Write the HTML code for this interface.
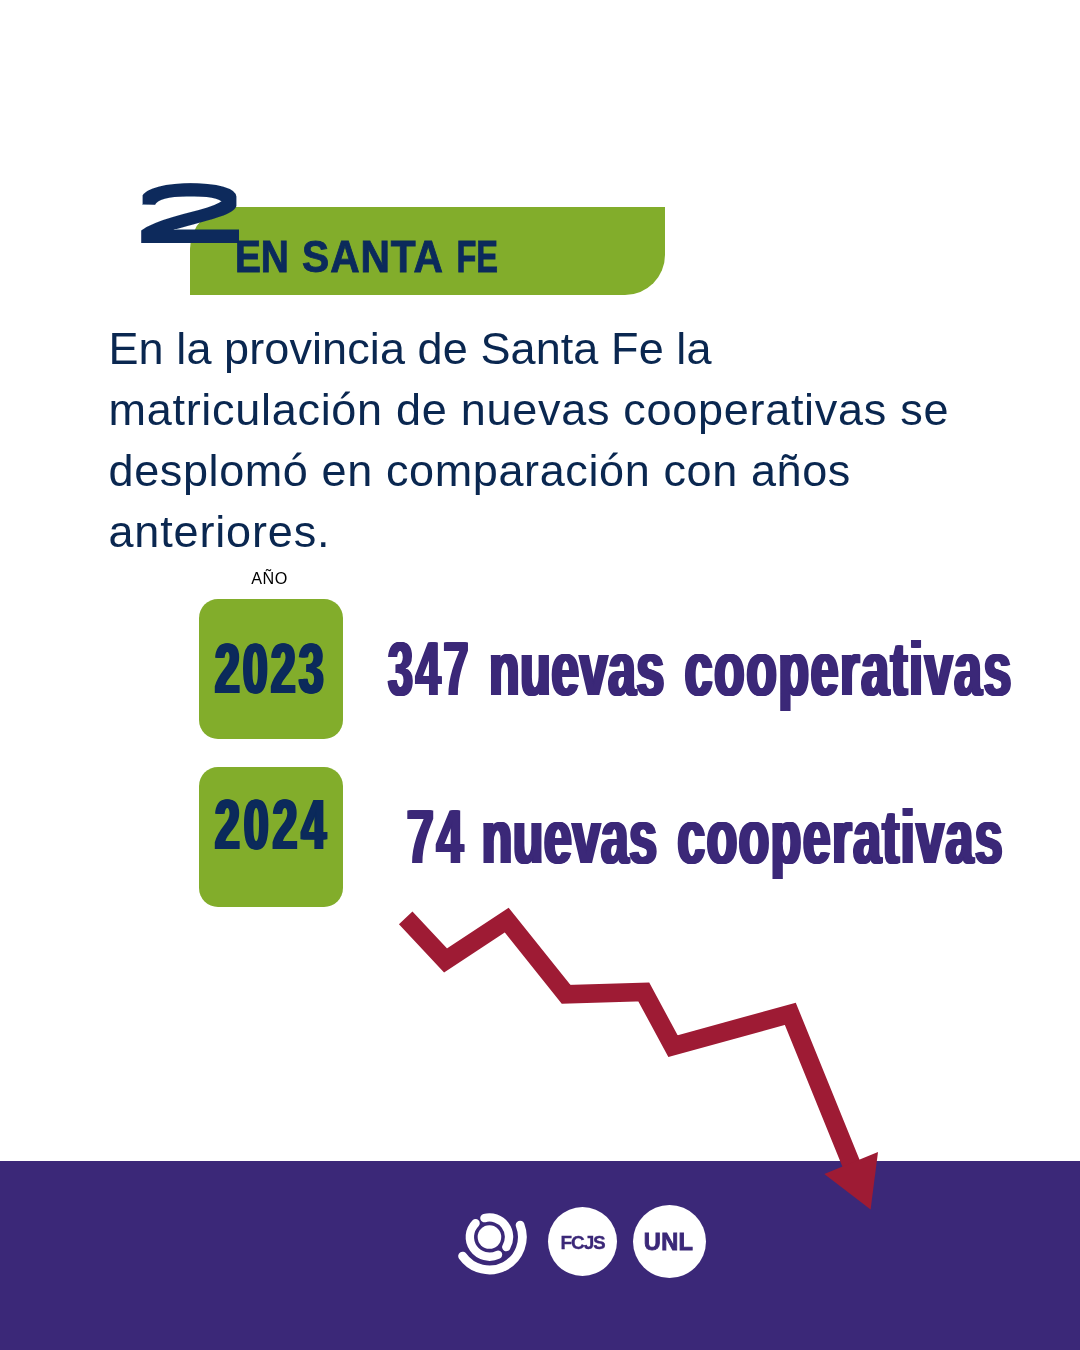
<!DOCTYPE html>
<html lang="es">
<head>
<meta charset="utf-8">
<title>En Santa Fe</title>
<style>
html,body{margin:0;padding:0;}
body{width:1080px;height:1350px;position:relative;overflow:hidden;background:#fff;font-family:"Liberation Sans",sans-serif;}
.abs{position:absolute;}
#banner{left:190px;top:207px;width:475px;height:88px;background:#82ad2b;border-radius:42px 0 40px 0;}
#title{left:234.5px;top:235px;font-weight:700;font-size:44.2px;line-height:1;color:#0b2a5b;white-space:nowrap;letter-spacing:-0.3px;-webkit-text-stroke:0.9px #0b2a5b;transform-origin:0 0;transform:scaleX(0.922);}
.body{left:108.5px;font-size:45px;line-height:1;color:#0a2750;white-space:nowrap;}
#ano{left:229.5px;top:569.5px;width:80px;text-align:center;font-size:16.2px;line-height:1;color:#000;letter-spacing:0.5px;}
.box{left:199px;width:144px;height:140px;background:#82ad2b;border-radius:19px;}
.yr{font-weight:700;font-size:70.5px;line-height:1;color:#0b2a5b;white-space:nowrap;transform-origin:0 0;transform:scaleX(0.63);text-shadow:1.3px 0 #0b2a5b,-1.3px 0 #0b2a5b,2.6px 0 #0b2a5b,-2.6px 0 #0b2a5b;letter-spacing:6.5px;}
.big{font-weight:700;font-size:76px;line-height:1;color:#3b2878;white-space:nowrap;transform-origin:0 0;text-shadow:1.3px 0 #3b2878,-1.3px 0 #3b2878,2.6px 0 #3b2878,-2.6px 0 #3b2878;}
#footer{left:0;top:1161px;width:1080px;height:189px;background:#3b2878;}
.circ{background:#fff;border-radius:50%;}
.ctext{color:#3b2878;font-weight:700;line-height:1;white-space:nowrap;}
</style>
</head>
<body>
<div class="abs" id="banner"></div>
<svg class="abs" id="twosvg" style="left:0;top:0;overflow:visible" width="400" height="320" viewBox="0 0 400 320">
  <defs><filter id="ext" x="-20%" y="-20%" width="140%" height="140%"><feMorphology operator="dilate" radius="0 4" result="a"/><feMorphology in="a" operator="erode" radius="4 0"/></filter></defs>
  <g filter="url(#ext)"><g transform="translate(125.5,239.3) scale(3.16,1)"><text x="0" y="0" font-family="Liberation Sans, sans-serif" font-size="73.5" fill="#0b2a5b">2</text></g></g>
</svg>
<div class="abs" id="title"><span style="display:inline-block;transform:scaleX(0.955);transform-origin:0 0">EN</span> <span style="letter-spacing:0.95px">SANTA</span> <span style="display:inline-block;transform:scaleX(0.8);transform-origin:100% 0;margin-left:-9px">FE</span></div>

<div class="abs body" id="l1" style="top:326px;letter-spacing:0.09px">En la provincia de Santa Fe la</div>
<div class="abs body" id="l2" style="top:387px;letter-spacing:0.71px">matriculación de nuevas cooperativas se</div>
<div class="abs body" id="l3" style="top:448px;letter-spacing:0.61px">desplomó en comparación con años</div>
<div class="abs body" id="l4" style="top:509px;letter-spacing:0.84px">anteriores.</div>

<div class="abs" id="ano">AÑO</div>
<div class="abs box" style="top:599px"></div>
<div class="abs box" style="top:767px"></div>
<div class="abs yr" id="y1" style="left:215px;top:634px;letter-spacing:5.2px">2023</div>
<div class="abs yr" id="y2" style="left:215px;top:789.5px;letter-spacing:6.5px">2024</div>

<div class="abs big" id="b1" style="left:387.5px;top:631px;transform:scaleX(0.655);word-spacing:9px"><span style="display:inline-block;transform:scaleX(0.9);transform-origin:0 0;letter-spacing:4.8px;margin-right:-21.5px">347</span> <span style="letter-spacing:1.1px;margin-left:4.5px">nuevas</span> <span style="letter-spacing:2.7px;margin-left:0px">cooperativas</span></div>
<div class="abs big" id="b2" style="left:407px;top:799px;transform:scaleX(0.655);word-spacing:9px"><span style="display:inline-block;transform:scaleX(0.96);transform-origin:0 0;letter-spacing:5px;margin-right:-10.5px">74</span> <span style="letter-spacing:1.1px;margin-left:0px">nuevas</span> <span style="letter-spacing:2.5px;margin-left:0px">cooperativas</span></div>

<div class="abs" id="footer"></div>

<svg class="abs" style="left:0;top:0" width="1080" height="1350" viewBox="0 0 1080 1350">
  <polyline points="405.7,917.9 445.5,960.4 506.7,920 566.1,994.3 643.8,992 673,1046.1 790.3,1013.8 852.1,1165.9" fill="none" stroke="#9e1b34" stroke-width="18.5" stroke-linejoin="miter" stroke-miterlimit="10"/>
  <polygon points="824.3,1174.1 878,1151.9 870.6,1209.6" fill="#9e1b34"/>
</svg>

<svg class="abs" id="logo" style="left:0;top:0" width="1080" height="1350" viewBox="0 0 1080 1350">
  <circle cx="489.44" cy="1237.04" r="11.8" fill="#fff"/>
  <path d="M475.58,1223.18 A19.6,19.6 0 0 0 498.03,1254.66" fill="none" stroke="#fff" stroke-width="8.4" stroke-linecap="round"/>
  <path d="M484.47,1218.08 A19.6,19.6 0 0 1 506.29,1247.05" fill="none" stroke="#fff" stroke-width="8.4" stroke-linecap="round"/>
  <path d="M462.62,1256.10 A32.9,32.9 0 0 0 520.11,1225.14" fill="none" stroke="#fff" stroke-width="8.8" stroke-linecap="round"/>
</svg>
<div class="abs circ" style="left:548px;top:1207px;width:69.4px;height:69.4px"></div>
<div class="abs circ" style="left:633.3px;top:1205.4px;width:73px;height:73px"></div>
<div class="abs ctext" id="fcjs" style="left:560.5px;top:1233px;font-size:19px;letter-spacing:-1.1px;-webkit-text-stroke:0.3px #3b2878">FCJS</div>
<div class="abs ctext" id="unl" style="left:643.8px;top:1230.8px;font-size:23.6px;letter-spacing:0.3px;-webkit-text-stroke:0.9px #3b2878">UNL</div>
</body>
</html>
